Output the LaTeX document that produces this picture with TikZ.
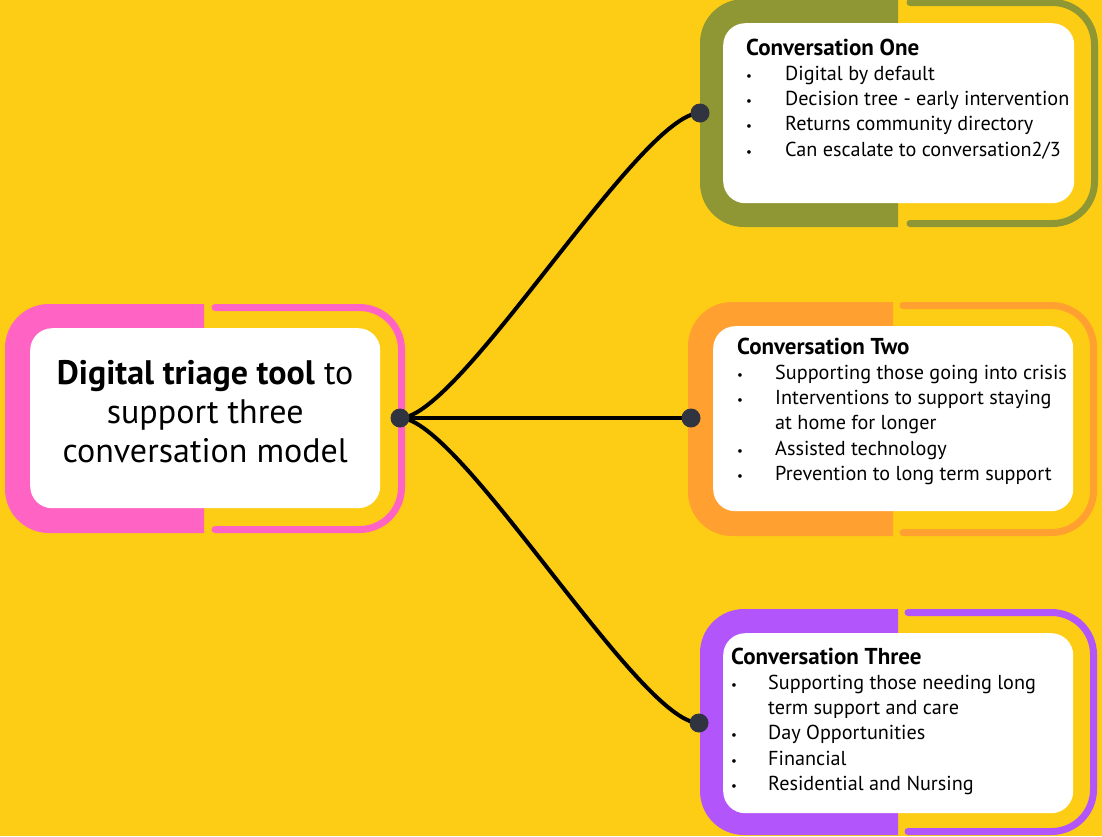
\documentclass[tikz,border=0pt]{standalone}
\usepackage{fontspec}
\setmainfont{PT Sans}

\definecolor{bgyellow}{RGB}{252,205,20}
\definecolor{pinkfr}{RGB}{255,99,196}
\definecolor{olivefr}{RGB}{143,150,52}
\definecolor{orangefr}{RGB}{255,160,48}
\definecolor{purplefr}{RGB}{178,85,250}
\definecolor{dotgrey}{RGB}{47,52,64}

% small list bullet and bold panel heading
\def\bul{{\fontsize{13}{13}\selectfont\textbullet}}
\def\head#1{\multicolumn{2}{@{}l@{}}{\fontsize{23}{25.3}\selectfont\bfseries #1}}

\begin{document}
\begin{tikzpicture}[x=1pt, y=-1pt, line join=round,
    panel/.style={fill=white, rounded corners=22pt, inner sep=0pt, anchor=north west},
    dot/.style={circle, fill=dotgrey, inner sep=0pt, minimum size=19pt},
    link/.style={line width=4pt, black},
    bodytext/.style={font=\fontsize{20.2}{25.3}\selectfont, anchor=base west, inner sep=0pt}]

    % Background
    \useasboundingbox (0,0) rectangle (1102,836);
    \fill[bgyellow] (0,0) rectangle (1102,836);

    % --- Frames: filled left half, open bracket on the right ---
    \foreach \col/\L/\R/\T/\B/\S/\So in {pinkfr/5/405/304/533/204/215,
        olivefr/700/1098/-1/227/898/910,
        orangefr/688/1097/302/536/893/903,
        purplefr/700/1097/609/835/898/908} {
        \begin{scope}
            \clip (\L,\T) rectangle (\S,\B);
            \fill[\col, rounded corners=44pt] (\L,\T) rectangle (\R,\B);
        \end{scope}
        \draw[\col, line width=7pt, line cap=round, rounded corners=42pt]
            (\So,\T+3.5) -- (\R-3.5,\T+3.5) -- (\R-3.5,\B-3.5) -- (\So,\B-3.5);
    }

    % --- White panels ---
    \node[panel, minimum width=350pt, minimum height=180pt] (main) at (30,328) {};
    \node[panel, minimum width=351pt, minimum height=180pt] (one) at (723,23) {};
    \node[panel, minimum width=360pt, minimum height=185pt] (two) at (713,326) {};
    \node[panel, minimum width=350pt, minimum height=180pt] (three) at (723,633) {};

    % --- Central label ---
    \node[font=\fontsize{34}{39}\selectfont, align=center] (title)
        at ([yshift=7pt]main.center) {\textbf{Digital triage tool} to\\ support three\\ conversation model};

    % --- Panel texts ---
    \node[bodytext] (one text) at (746,55) {\begin{tabular}[t]{@{}p{39pt}@{}l@{}}
        \head{Conversation One}\\
        \bul & Digital by default\\
        \bul & Decision tree - early intervention\\
        \bul & Returns community directory\\
        \bul & Can escalate to conversation2/3
    \end{tabular}};
    \node[bodytext] (two text) at (737,354) {\begin{tabular}[t]{@{}p{38pt}@{}l@{}}
        \head{Conversation Two}\\
        \bul & Supporting those going into crisis\\
        \bul & Interventions to support staying\\
             & at home for longer\\
        \bul & Assisted technology\\
        \bul & Prevention to long term support
    \end{tabular}};
    \node[bodytext] (three text) at (731,664) {\begin{tabular}[t]{@{}p{37pt}@{}l@{}}
        \head{Conversation Three}\\
        \bul & Supporting those needing long\\
             & term support and care\\
        \bul & Day Opportunities\\
        \bul & Financial\\
        \bul & Residential and Nursing
    \end{tabular}};

    % --- Connectors ---
    \coordinate (hub) at (400,418);
    \coordinate (end one) at (700,113);
    \coordinate (end two) at (691,418);
    \coordinate (end three) at (699,723);

    \draw[link] (hub) .. controls +(60,0) and +(-60,0) .. (end one);
    \draw[link] (hub) -- (end two);
    \draw[link] (hub) .. controls +(60,0) and +(-60,0) .. (end three);

    \foreach \p in {hub, end one, end two, end three}
        \node[dot] at (\p) {};
\end{tikzpicture}
\end{document}
